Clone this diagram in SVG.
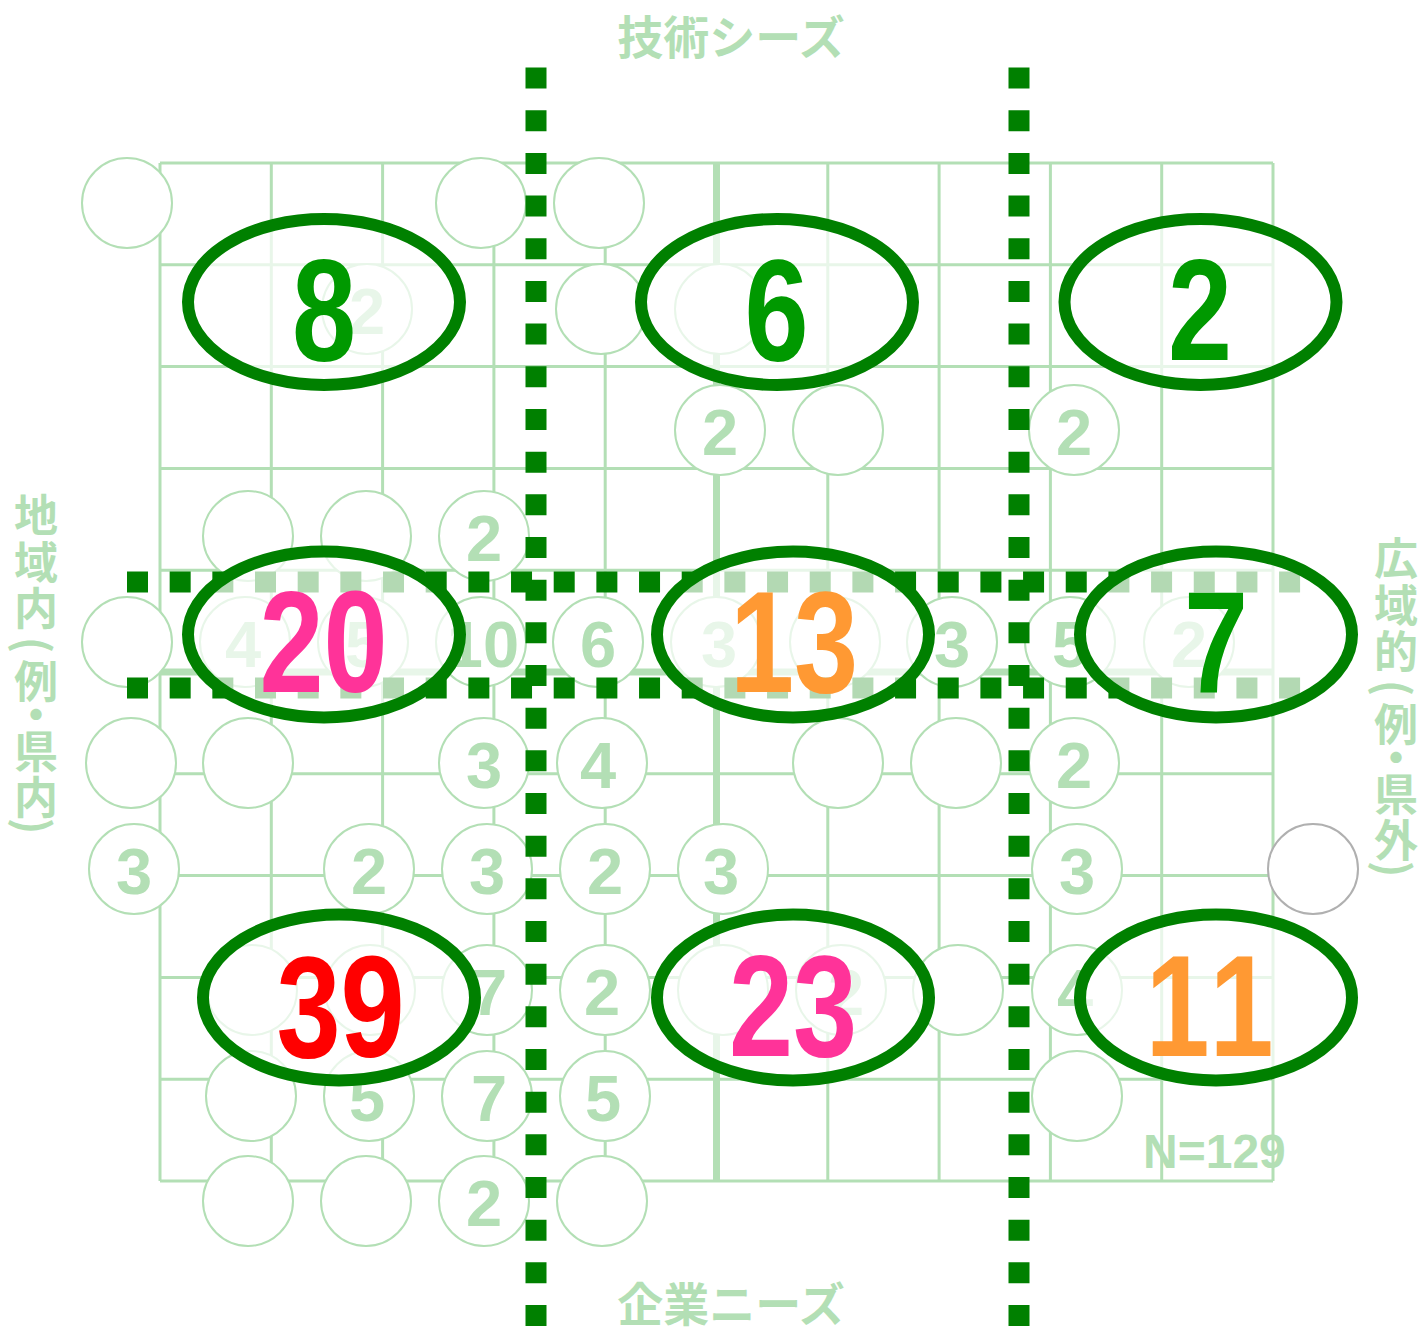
<svg xmlns="http://www.w3.org/2000/svg" width="1423" height="1327" viewBox="0 0 1423 1327">
<style>
.g{stroke:#b3dfb5;stroke-width:3;fill:none}
.gt{stroke:#b3dfb5;stroke-width:7;fill:none}
.c{fill:#fff;stroke:#b3dfb5;stroke-width:2}
.cg{fill:#fff;stroke:#b0b0b0;stroke-width:2}
.cl{font-family:"Liberation Sans",Arial,sans-serif;font-weight:bold;font-size:65px;fill:#b3dfb5;text-anchor:middle}
.dot{stroke:#008000;stroke-width:21;stroke-dasharray:21 21.67;fill:none}
.e{fill:#fff;fill-opacity:0.7;stroke:#008000;stroke-width:12}
.big{font-family:"Liberation Sans",Arial,sans-serif;font-weight:bold;font-size:144px;text-anchor:middle}
.ax{font-family:"Noto Sans CJK JP",sans-serif;font-weight:bold;font-size:44px;fill:#b3dfb5;text-anchor:middle;dominant-baseline:central}
.axh{font-family:"Noto Sans CJK JP",sans-serif;font-weight:bold;font-size:46px;fill:#b3dfb5;text-anchor:middle;dominant-baseline:central}
.gr{fill:#009900}.pk{fill:#ff3399}.or{fill:#ff9933}.rd{fill:#ff0000}
</style>
<rect width="1423" height="1327" fill="#fff"/>
<g id="grid">
<path class="g" d="M160 163V1181M271.3 163V1181M382.6 163V1181M493.9 163V1181M605.2 163V1181M827.8 163V1181M939.1 163V1181M1050.4 163V1181M1161.7 163V1181M1273 163V1181M160 163H1273M160 264.8H1273M160 366.6H1273M160 468.4H1273M160 570.2H1273M160 773.8H1273M160 875.6H1273M160 977.4H1273M160 1079.2H1273M160 1181H1273"/>
<path class="gt" d="M716.5 163V1181M160 672H1273"/>
</g>
<g id="cells">
<g id="a1"><circle class="c" cx="127" cy="203" r="45"/></g>
<g id="a2"><circle class="c" cx="481" cy="203" r="45"/></g>
<g id="a3"><circle class="c" cx="599" cy="203" r="45"/></g>
<g id="b1"><circle class="c" cx="367" cy="309" r="45"/><text class="cl" x="367" y="334">2</text></g>
<g id="b2"><circle class="c" cx="601" cy="309" r="45"/></g>
<g id="b3"><circle class="c" cx="720" cy="309" r="45"/></g>
<g id="c1"><circle class="c" cx="720" cy="430" r="45"/><text class="cl" x="720" y="455">2</text></g>
<g id="c2"><circle class="c" cx="838" cy="430" r="45"/></g>
<g id="c3"><circle class="c" cx="1074" cy="430" r="45"/><text class="cl" x="1074" y="455">2</text></g>
<g id="d1"><circle class="c" cx="248" cy="536" r="45"/></g>
<g id="d2"><circle class="c" cx="366" cy="536" r="45"/></g>
<g id="d3"><circle class="c" cx="484" cy="536" r="45"/><text class="cl" x="484" y="561">2</text></g>
<g id="e1"><circle class="c" cx="127" cy="642" r="45"/></g>
<g id="e2"><circle class="c" cx="245" cy="642" r="45"/><text class="cl" x="243" y="667">4</text></g>
<g id="e3"><circle class="c" cx="363" cy="642" r="45"/><text class="cl" x="363" y="667">5</text></g>
<g id="e4"><circle class="c" cx="481" cy="642" r="45"/><text class="cl" x="483" y="667">10</text></g>
<g id="e5"><circle class="c" cx="598" cy="642" r="45"/><text class="cl" x="598" y="667">6</text></g>
<g id="e6"><circle class="c" cx="716" cy="642" r="45"/><text class="cl" x="719" y="667">3</text></g>
<g id="e7"><circle class="c" cx="835" cy="642" r="45"/></g>
<g id="e8"><circle class="c" cx="952" cy="642" r="45"/><text class="cl" x="952" y="667">3</text></g>
<g id="e9"><circle class="c" cx="1070" cy="642" r="45"/><text class="cl" x="1070" y="667">5</text></g>
<g id="e10"><circle class="c" cx="1189" cy="642" r="45"/><text class="cl" x="1189" y="667">2</text></g>
<g id="f1"><circle class="c" cx="131" cy="763" r="45"/></g>
<g id="f2"><circle class="c" cx="248" cy="763" r="45"/></g>
<g id="f3"><circle class="c" cx="484" cy="763" r="45"/><text class="cl" x="484" y="788">3</text></g>
<g id="f4"><circle class="c" cx="602" cy="763" r="45"/><text class="cl" x="598" y="788">4</text></g>
<g id="f5"><circle class="c" cx="838" cy="763" r="45"/></g>
<g id="f6"><circle class="c" cx="956" cy="763" r="45"/></g>
<g id="f7"><circle class="c" cx="1074" cy="763" r="45"/><text class="cl" x="1074" y="788">2</text></g>
<g id="g1"><circle class="c" cx="134" cy="869" r="45"/><text class="cl" x="134" y="894">3</text></g>
<g id="g2"><circle class="c" cx="369" cy="869" r="45"/><text class="cl" x="369" y="894">2</text></g>
<g id="g3"><circle class="c" cx="487" cy="869" r="45"/><text class="cl" x="487" y="894">3</text></g>
<g id="g4"><circle class="c" cx="605" cy="869" r="45"/><text class="cl" x="605" y="894">2</text></g>
<g id="g5"><circle class="c" cx="723" cy="869" r="45"/><text class="cl" x="721" y="894">3</text></g>
<g id="g6"><circle class="c" cx="1077" cy="869" r="45"/><text class="cl" x="1077" y="894">3</text></g>
<g id="g7"><circle class="cg" cx="1313" cy="869" r="45"/></g>
<g id="h1"><circle class="c" cx="252" cy="990" r="45"/></g>
<g id="h2"><circle class="c" cx="370" cy="990" r="45"/></g>
<g id="h3"><circle class="c" cx="487" cy="990" r="45"/><text class="cl" x="489" y="1015">7</text></g>
<g id="h4"><circle class="c" cx="605" cy="990" r="45"/><text class="cl" x="602" y="1015">2</text></g>
<g id="h5"><circle class="c" cx="723" cy="990" r="45"/></g>
<g id="h6"><circle class="c" cx="841" cy="990" r="45"/><text class="cl" x="846" y="1015">2</text></g>
<g id="h7"><circle class="c" cx="958" cy="990" r="45"/></g>
<g id="h8"><circle class="c" cx="1077" cy="990" r="45"/><text class="cl" x="1075" y="1015">4</text></g>
<g id="i1"><circle class="c" cx="251" cy="1096" r="45"/></g>
<g id="i2"><circle class="c" cx="369" cy="1096" r="45"/><text class="cl" x="367" y="1121">5</text></g>
<g id="i3"><circle class="c" cx="487" cy="1096" r="45"/><text class="cl" x="489" y="1121">7</text></g>
<g id="i4"><circle class="c" cx="605" cy="1096" r="45"/><text class="cl" x="603" y="1121">5</text></g>
<g id="i5"><circle class="c" cx="1077" cy="1096" r="45"/></g>
<g id="j1"><circle class="c" cx="248" cy="1201" r="45"/></g>
<g id="j2"><circle class="c" cx="366" cy="1201" r="45"/></g>
<g id="j3"><circle class="c" cx="484" cy="1201" r="45"/><text class="cl" x="484" y="1226">2</text></g>
<g id="j4"><circle class="c" cx="602" cy="1201" r="45"/></g>
</g>
<g id="dividers">
<line class="dot" x1="536" y1="67.6" x2="536" y2="1327"/>
<line class="dot" x1="1019" y1="67.6" x2="1019" y2="1327"/>
<line class="dot" x1="127" y1="582" x2="1301" y2="582"/>
<line class="dot" x1="127" y1="688" x2="1301" y2="688"/>
</g>
<g id="n8"><ellipse class="e" cx="324" cy="302" rx="136" ry="83"/><text class="big gr" transform="translate(324 361) scale(0.8 1)">8</text></g>
<g id="n6"><ellipse class="e" cx="777" cy="302" rx="136" ry="83"/><text class="big gr" transform="translate(776.5 361) scale(0.8 1)">6</text></g>
<g id="n2"><ellipse class="e" cx="1200.5" cy="302" rx="136" ry="83"/><text class="big gr" transform="translate(1200 360) scale(0.8 1)">2</text></g>
<g id="n20"><ellipse class="e" cx="324" cy="634.5" rx="136" ry="83"/><text class="big pk" transform="translate(323.5 692) scale(0.8 1)">20</text></g>
<g id="n13"><ellipse class="e" cx="793" cy="634.5" rx="136" ry="83"/><text class="big or" transform="translate(794 692) scale(0.8 1)">13</text></g>
<g id="n7"><ellipse class="e" cx="1216" cy="634.5" rx="136" ry="83"/><text class="big gr" transform="translate(1216 692) scale(0.8 1)">7</text></g>
<g id="n39"><ellipse class="e" cx="339" cy="997.5" rx="136" ry="83"/><text class="big rd" transform="translate(340.5 1057) scale(0.8 1)">39</text></g>
<g id="n23"><ellipse class="e" cx="793" cy="997.5" rx="136" ry="83"/><text class="big pk" transform="translate(793 1056) scale(0.8 1)">23</text></g>
<g id="n11"><ellipse class="e" cx="1216" cy="997.5" rx="136" ry="83"/><text class="big or" transform="translate(1209.5 1056) scale(0.8 1)"><tspan x="-40">1</tspan><tspan x="40">1</tspan></text></g>
<g id="labels">
<text class="axh" x="731" y="34">技術シーズ</text>
<text class="axh" x="731" y="1301">企業ニーズ</text>
<text class="cl" x="1143" y="1168" style="text-anchor:start;font-size:48px">N=129</text>
<g id="left-label">
<text class="ax" x="36" y="513">地</text>
<text class="ax" x="36" y="560">域</text>
<text class="ax" x="36" y="606">内</text>
<text class="ax" x="36" y="645" transform="rotate(90 36 645)">(</text>
<text class="ax" x="36" y="679">例</text>
<text class="ax" x="36" y="712">・</text>
<text class="ax" x="36" y="749">県</text>
<text class="ax" x="36" y="795">内</text>
<text class="ax" x="36" y="826" transform="rotate(90 36 826)">)</text>
</g>
<g id="right-label">
<text class="ax" x="1396" y="556">広</text>
<text class="ax" x="1396" y="603">域</text>
<text class="ax" x="1396" y="649">的</text>
<text class="ax" x="1396" y="688" transform="rotate(90 1396 688)">(</text>
<text class="ax" x="1396" y="722">例</text>
<text class="ax" x="1396" y="755">・</text>
<text class="ax" x="1396" y="792">県</text>
<text class="ax" x="1396" y="838">外</text>
<text class="ax" x="1396" y="869" transform="rotate(90 1396 869)">)</text>
</g>
</g>
</svg>
